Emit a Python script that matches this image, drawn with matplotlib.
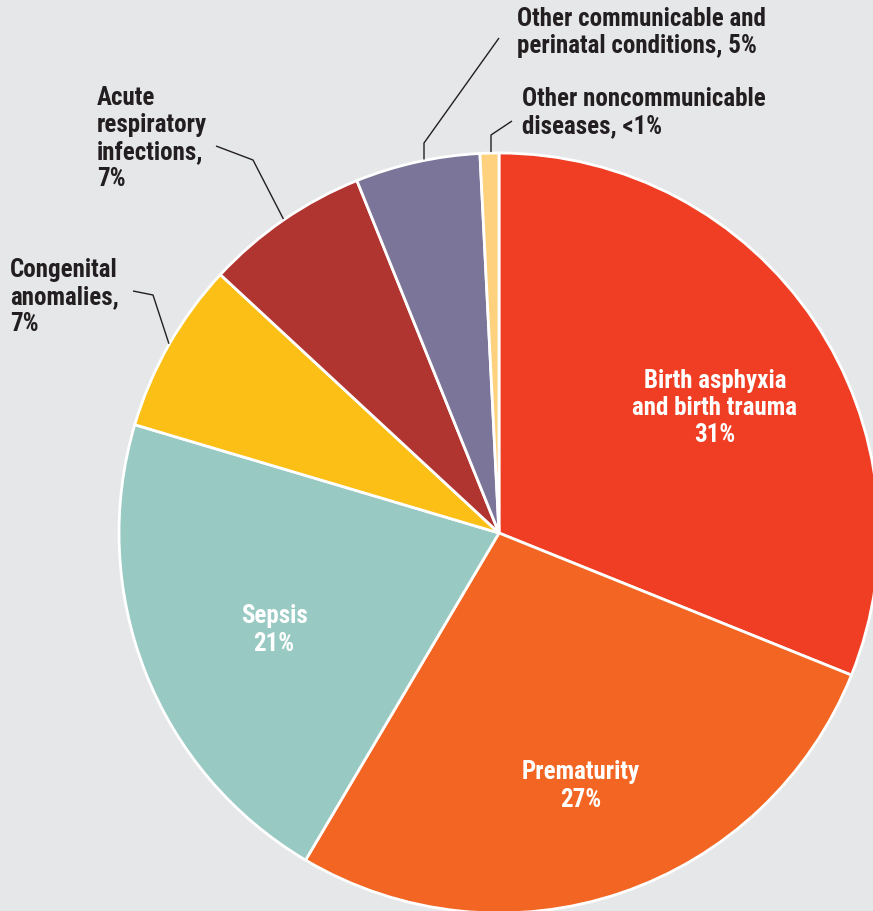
import numpy as np
import matplotlib

matplotlib.use("Agg")
import matplotlib.pyplot as plt  # noqa: E402

# causes of neonatal death, share in %
CAUSES = ["Birth asphyxia\nand birth trauma", "Prematurity", "Sepsis", "Congenital\nanomalies,",
          "Acute\nrespiratory\ninfections,", "Other communicable and\nperinatal conditions,",
          "Other noncommunicable\ndiseases,"]
VALUES = [31.1, 27.4, 21.1, 7.3, 7.0, 5.3, 0.8]
PCT_LABELS = ["31%", "27%", "21%", "7%", "7%", "5%", "<1%"]
COLORS = ["#ef3e24", "#f26522", "#98c9c3", "#fbbf16", "#b0342f", "#7b7699", "#fed17e"]
BG = "#e6e7e9"
INK = "#231f20"

plt.rcParams["font.family"] = ["Roboto Condensed", "Liberation Sans", "DejaVu Sans"]
FS = 18
LS = 1.16

W, H = 873, 911
CX, CY, R = 499, H - 533, 380

fig = plt.figure(figsize=(W / 100, H / 100), dpi=100, facecolor=BG)
ax = fig.add_axes([0, 0, 1, 1])
ax.set_facecolor(BG)
wedges, _ = ax.pie(VALUES, colors=COLORS, startangle=90, counterclock=False, center=(CX, CY),
                   radius=R, wedgeprops=dict(edgecolor="white", linewidth=2))
ax.set_xlim(0, W)
ax.set_ylim(0, H)
ax.set_aspect("equal")
ax.axis("off")

# inside labels (white): index -> centre (image px)
inside = {0: (715, 408), 1: (581, 786), 2: (274, 630)}
for i, (x, y) in inside.items():
    ax.text(x, H - y, f"{CAUSES[i]}\n{PCT_LABELS[i]}", ha="center", va="center", color="white",
            fontsize=FS, fontweight="bold", linespacing=LS)

# outside labels with leader lines: text pos (left, top), elbow, line end near text
outside = {
    3: dict(txt=(10, 258), elbow=(153, 295), end=(133, 291)),
    4: dict(txt=(97, 86), elbow=(253, 160), end=(216, 146)),
    5: dict(txt=(517, 7), elbow=(424, 143), end=(499, 38)),
    6: dict(txt=(522, 87), elbow=(491, 135), end=(512, 121)),
}
for i, o in outside.items():
    w = wedges[i]
    if i in (5, 6):  # vertical stub straight up from the rim
        ex = o["elbow"][0]
        ey = CY + np.sqrt(R ** 2 - (ex - CX) ** 2)
    else:
        mid = np.deg2rad((w.theta1 + w.theta2) / 2)
        ex, ey = CX + R * np.cos(mid), CY + R * np.sin(mid)
    ax.plot([ex, o["elbow"][0], o["end"][0]], [ey + 1, H - o["elbow"][1], H - o["end"][1]],
            color=INK, lw=1, solid_capstyle="butt", zorder=5)
    sep = " " if i in (5, 6) else "\n"
    ax.text(o["txt"][0], H - o["txt"][1], f"{CAUSES[i]}{sep}{PCT_LABELS[i]}", ha="left", va="top",
            color=INK, fontsize=FS, fontweight="bold", linespacing=LS)

fig.savefig("out.png", dpi=100, facecolor=BG)
